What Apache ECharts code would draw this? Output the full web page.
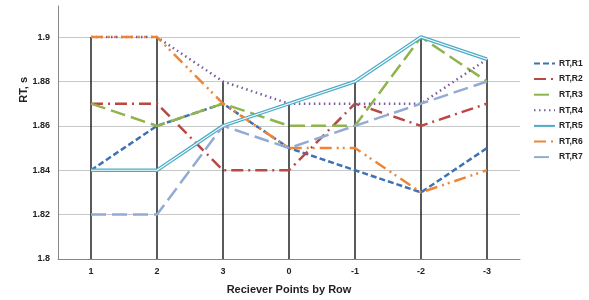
<!DOCTYPE html>
<html>
<head>
<meta charset="utf-8">
<script src="https://cdn.jsdelivr.net/npm/echarts@6/dist/echarts.min.js"></script>
<style>
  html, body { margin: 0; padding: 0; background: #fff; }
  #main { width: 589px; height: 300px; }
</style>
</head>
<body>
<div id="main"></div>
<script>
// categories along x (receiver points by row)
const categories = ["1", "2", "3", "0", "-1", "-2", "-3"];
// RT values in seconds, one array per row
const r1 = [1.84, 1.86, 1.87, 1.85, 1.84, 1.83, 1.85];
const r2 = [1.87, 1.87, 1.84, 1.84, 1.87, 1.86, 1.87];
const r3 = [1.87, 1.86, 1.87, 1.86, 1.86, 1.90, 1.88];
const r4 = [1.90, 1.90, 1.88, 1.87, 1.87, 1.87, 1.89];
const r5 = [1.84, 1.84, 1.86, 1.87, 1.88, 1.90, 1.89];
const r6 = [1.90, 1.90, 1.87, 1.85, 1.85, 1.83, 1.84];
const r7 = [1.82, 1.82, 1.86, 1.85, 1.86, 1.87, 1.88];
const seriesNames = ["RT,R1", "RT,R2", "RT,R3", "RT,R4", "RT,R5", "RT,R6", "RT,R7"];

const yMin = 1.8;
const yMax = 1.914;

const allRows = [r1, r2, r3, r4, r5, r6, r7];
// drop lines go from the highest value down to the axis
const dropData = categories.map((c, i) => [i, Math.max(...allRows.map(r => r[i]))]);

const styles = [
  { color: "#3F71B3", type: [6, 3] },
  { color: "#BB4744", type: [12, 5, 2, 5] },
  { color: "#8FB34E", type: [15, 6] },
  { color: "#7A5C9E", type: [1.5, 3.5] },
  { color: "#4BACC6", type: "solid" },
  { color: "#EE8535", type: [12, 5, 2, 4, 2, 5] },
  { color: "#92ABD4", type: [15, 6] }
];

const myChart = echarts.init(document.getElementById("main"));

const lineSeries = allRows.map((row, k) => ({
  name: seriesNames[k],
  type: "line",
  data: row,
  symbol: "none",
  z: 3,
  itemStyle: { color: styles[k].color },
  lineStyle: {
    color: styles[k].color,
    width: k === 4 ? 3.6 : 2.5,
    type: styles[k].type
  }
}));

// inner white line to get the double-line look of R5
lineSeries.push({
  name: "R5inner",
  type: "line",
  data: r5,
  symbol: "none",
  z: 4,
  silent: true,
  lineStyle: { color: "#ffffff", width: 1.1 }
});

const option = {
  animation: false,
  grid: { left: 58, right: 69, top: 6, bottom: 39 },
  legend: {
    orient: "vertical",
    left: 533,
    top: 59,
    padding: 0,
    data: seriesNames,
    itemWidth: 21,
    itemHeight: 8,
    itemGap: 6.6,
    itemStyle: { opacity: 0 },
    textStyle: { fontSize: 8.5, fontWeight: "bold", color: "#222", fontFamily: "Liberation Sans", padding: [0, 0, 0, -1] }
  },
  xAxis: {
    type: "category",
    data: categories,
    boundaryGap: true,
    axisLine: { lineStyle: { color: "#868686", width: 1 } },
    axisTick: { show: false },
    axisLabel: { fontSize: 9, fontWeight: "bold", color: "#222", margin: 8, fontFamily: "Liberation Sans" },
    name: "Reciever Points by Row",
    nameLocation: "middle",
    nameGap: 25,
    nameTextStyle: { fontSize: 11, fontWeight: "bold", color: "#222", fontFamily: "Liberation Sans" }
  },
  yAxis: {
    type: "value",
    min: yMin,
    max: yMax,
    interval: 0.02,
    axisLine: { show: true, lineStyle: { color: "#868686", width: 1 } },
    axisTick: { show: false },
    axisLabel: {
      fontSize: 9,
      fontWeight: "bold",
      color: "#222",
      margin: 8,
      showMaxLabel: false,
      fontFamily: "Liberation Sans"
    },
    splitLine: { show: true, showMaxLine: false, lineStyle: { color: "#c8c8c8", width: 1 } }
  },
  graphic: [
    {
      type: "text",
      left: 18,
      top: 77,
      rotation: Math.PI / 2,
      style: { text: "RT, s", fontSize: 11, fontWeight: "bold", fill: "#222", fontFamily: "Liberation Sans" }
    }
  ],
  series: [
    {
      name: "drop",
      type: "custom",
      z: 2,
      silent: true,
      data: dropData,
      renderItem: function(params, api) {
        const top = api.coord([api.value(0), api.value(1)]);
        const bottom = api.coord([api.value(0), yMin]);
        return {
          type: "line",
          shape: { x1: top[0], y1: top[1], x2: bottom[0], y2: bottom[1] },
          style: { stroke: "#000", lineWidth: 1.3 }
        };
      }
    }
  ].concat(lineSeries)
};

myChart.setOption(option);
</script>
</body>
</html>
